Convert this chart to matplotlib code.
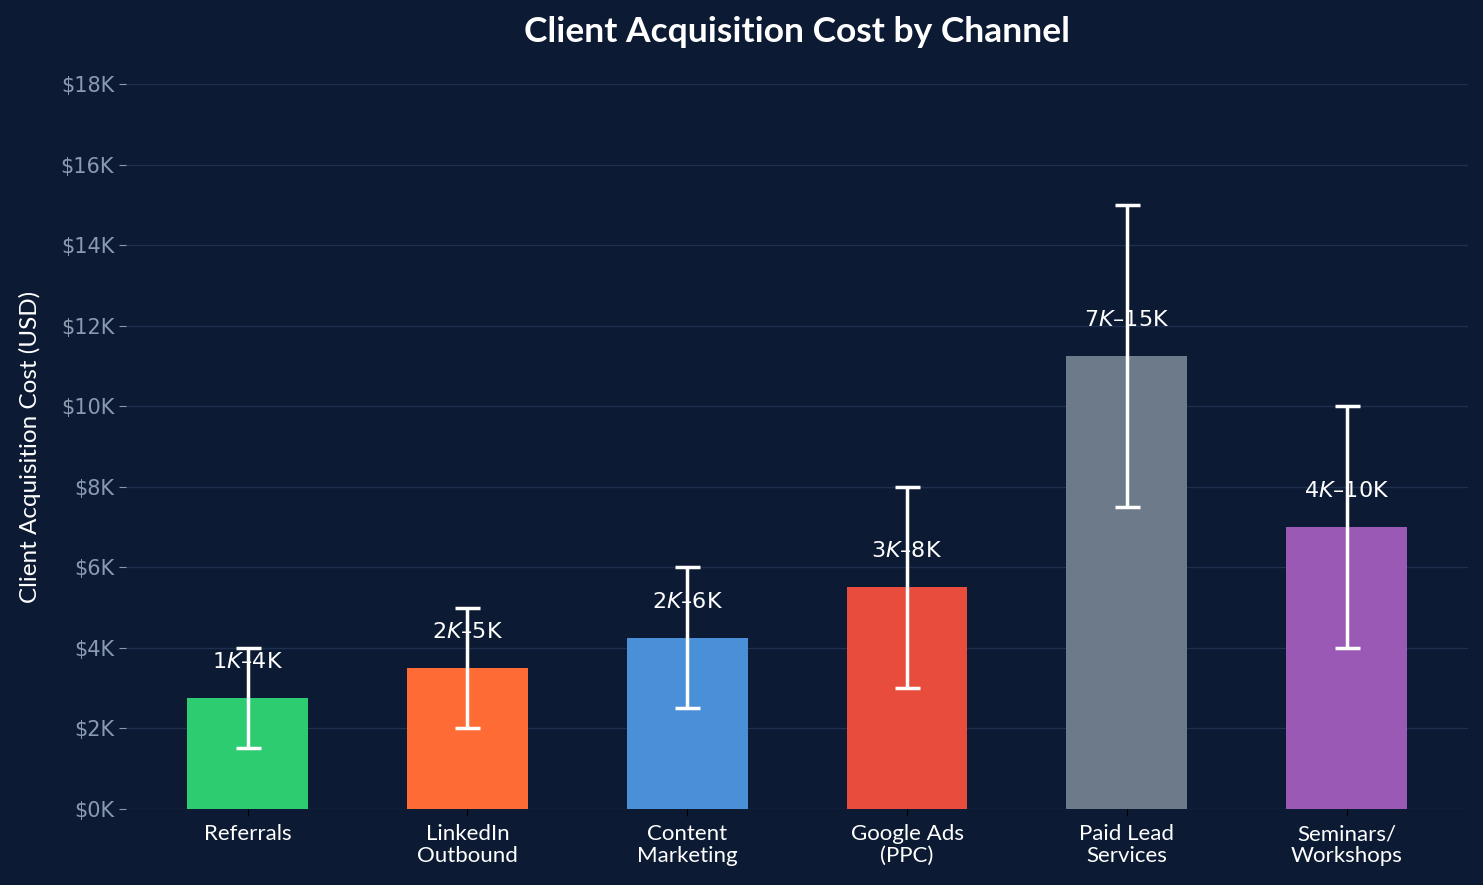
import matplotlib.pyplot as plt
import matplotlib.ticker as ticker
import numpy as np

# Data
channels = ['Referrals', 'LinkedIn\nOutbound', 'Content\nMarketing', 'Google Ads\n(PPC)',
            'Paid Lead\nServices', 'Seminars/\nWorkshops']
low_cost = [1500, 2000, 2500, 3000, 7500, 4000]
high_cost = [4000, 5000, 6000, 8000, 15000, 10000]
label_low = [1, 2, 2, 3, 7, 4]
label_high = [4, 5, 6, 8, 15, 10]
colors = ['#2ecc71', '#ff6b35', '#4a90d9', '#e74c3c', '#6c7a89', '#9b59b6']

bg = '#0c1b33'
mid = [(l + h) / 2 for l, h in zip(low_cost, high_cost)]
err_lo = [m - l for m, l in zip(mid, low_cost)]
err_hi = [h - m for m, h in zip(mid, high_cost)]

fig, ax = plt.subplots(figsize=(14.83, 8.85), dpi=100)
fig.patch.set_facecolor(bg)
ax.set_facecolor(bg)

x = np.arange(len(channels))
ax.bar(x, mid, width=0.55, color=colors, zorder=2)
ax.errorbar(x, mid, yerr=[err_lo, err_hi], fmt='none', ecolor='white',
            elinewidth=2.5, capsize=9, capthick=2.5, zorder=3)

# range labels (mathtext style like the original)
for xi, m, lo, hi in zip(x, mid, label_low, label_high):
    ax.text(xi, m + 900, f"${lo}K–${hi}K", ha='center', va='center',
            color='white', fontsize=16, zorder=4)

ax.set_ylim(0, 18000)
ax.yaxis.set_major_locator(ticker.MultipleLocator(2000))
ax.yaxis.set_major_formatter(ticker.FuncFormatter(lambda v, p: f"${v/1000:.0f}K"))
ax.grid(axis='y', color='#1f2f4d', linewidth=1, zorder=0)
ax.set_axisbelow(True)

for s in ax.spines.values():
    s.set_visible(False)

ax.set_xticks(x)
ax.set_xticklabels(channels, fontsize=16, color='white', family='Lato', linespacing=1.1)
ax.tick_params(axis='x', colors='black', length=5, labelcolor='white', pad=6)
ax.tick_params(axis='y', colors='#8a9bb0', labelsize=15, length=5)

ax.set_ylabel('Client Acquisition Cost (USD)', fontsize=17.5, color='white',
              family='Lato', labelpad=14)
ax.set_title('Client Acquisition Cost by Channel', fontsize=25.5, fontweight='bold',
             color='white', family='Lato', pad=30)

plt.subplots_adjust(left=0.085, right=0.99, top=0.905, bottom=0.086)
plt.savefig('out.png', dpi=100, facecolor=bg)
plt.close()
